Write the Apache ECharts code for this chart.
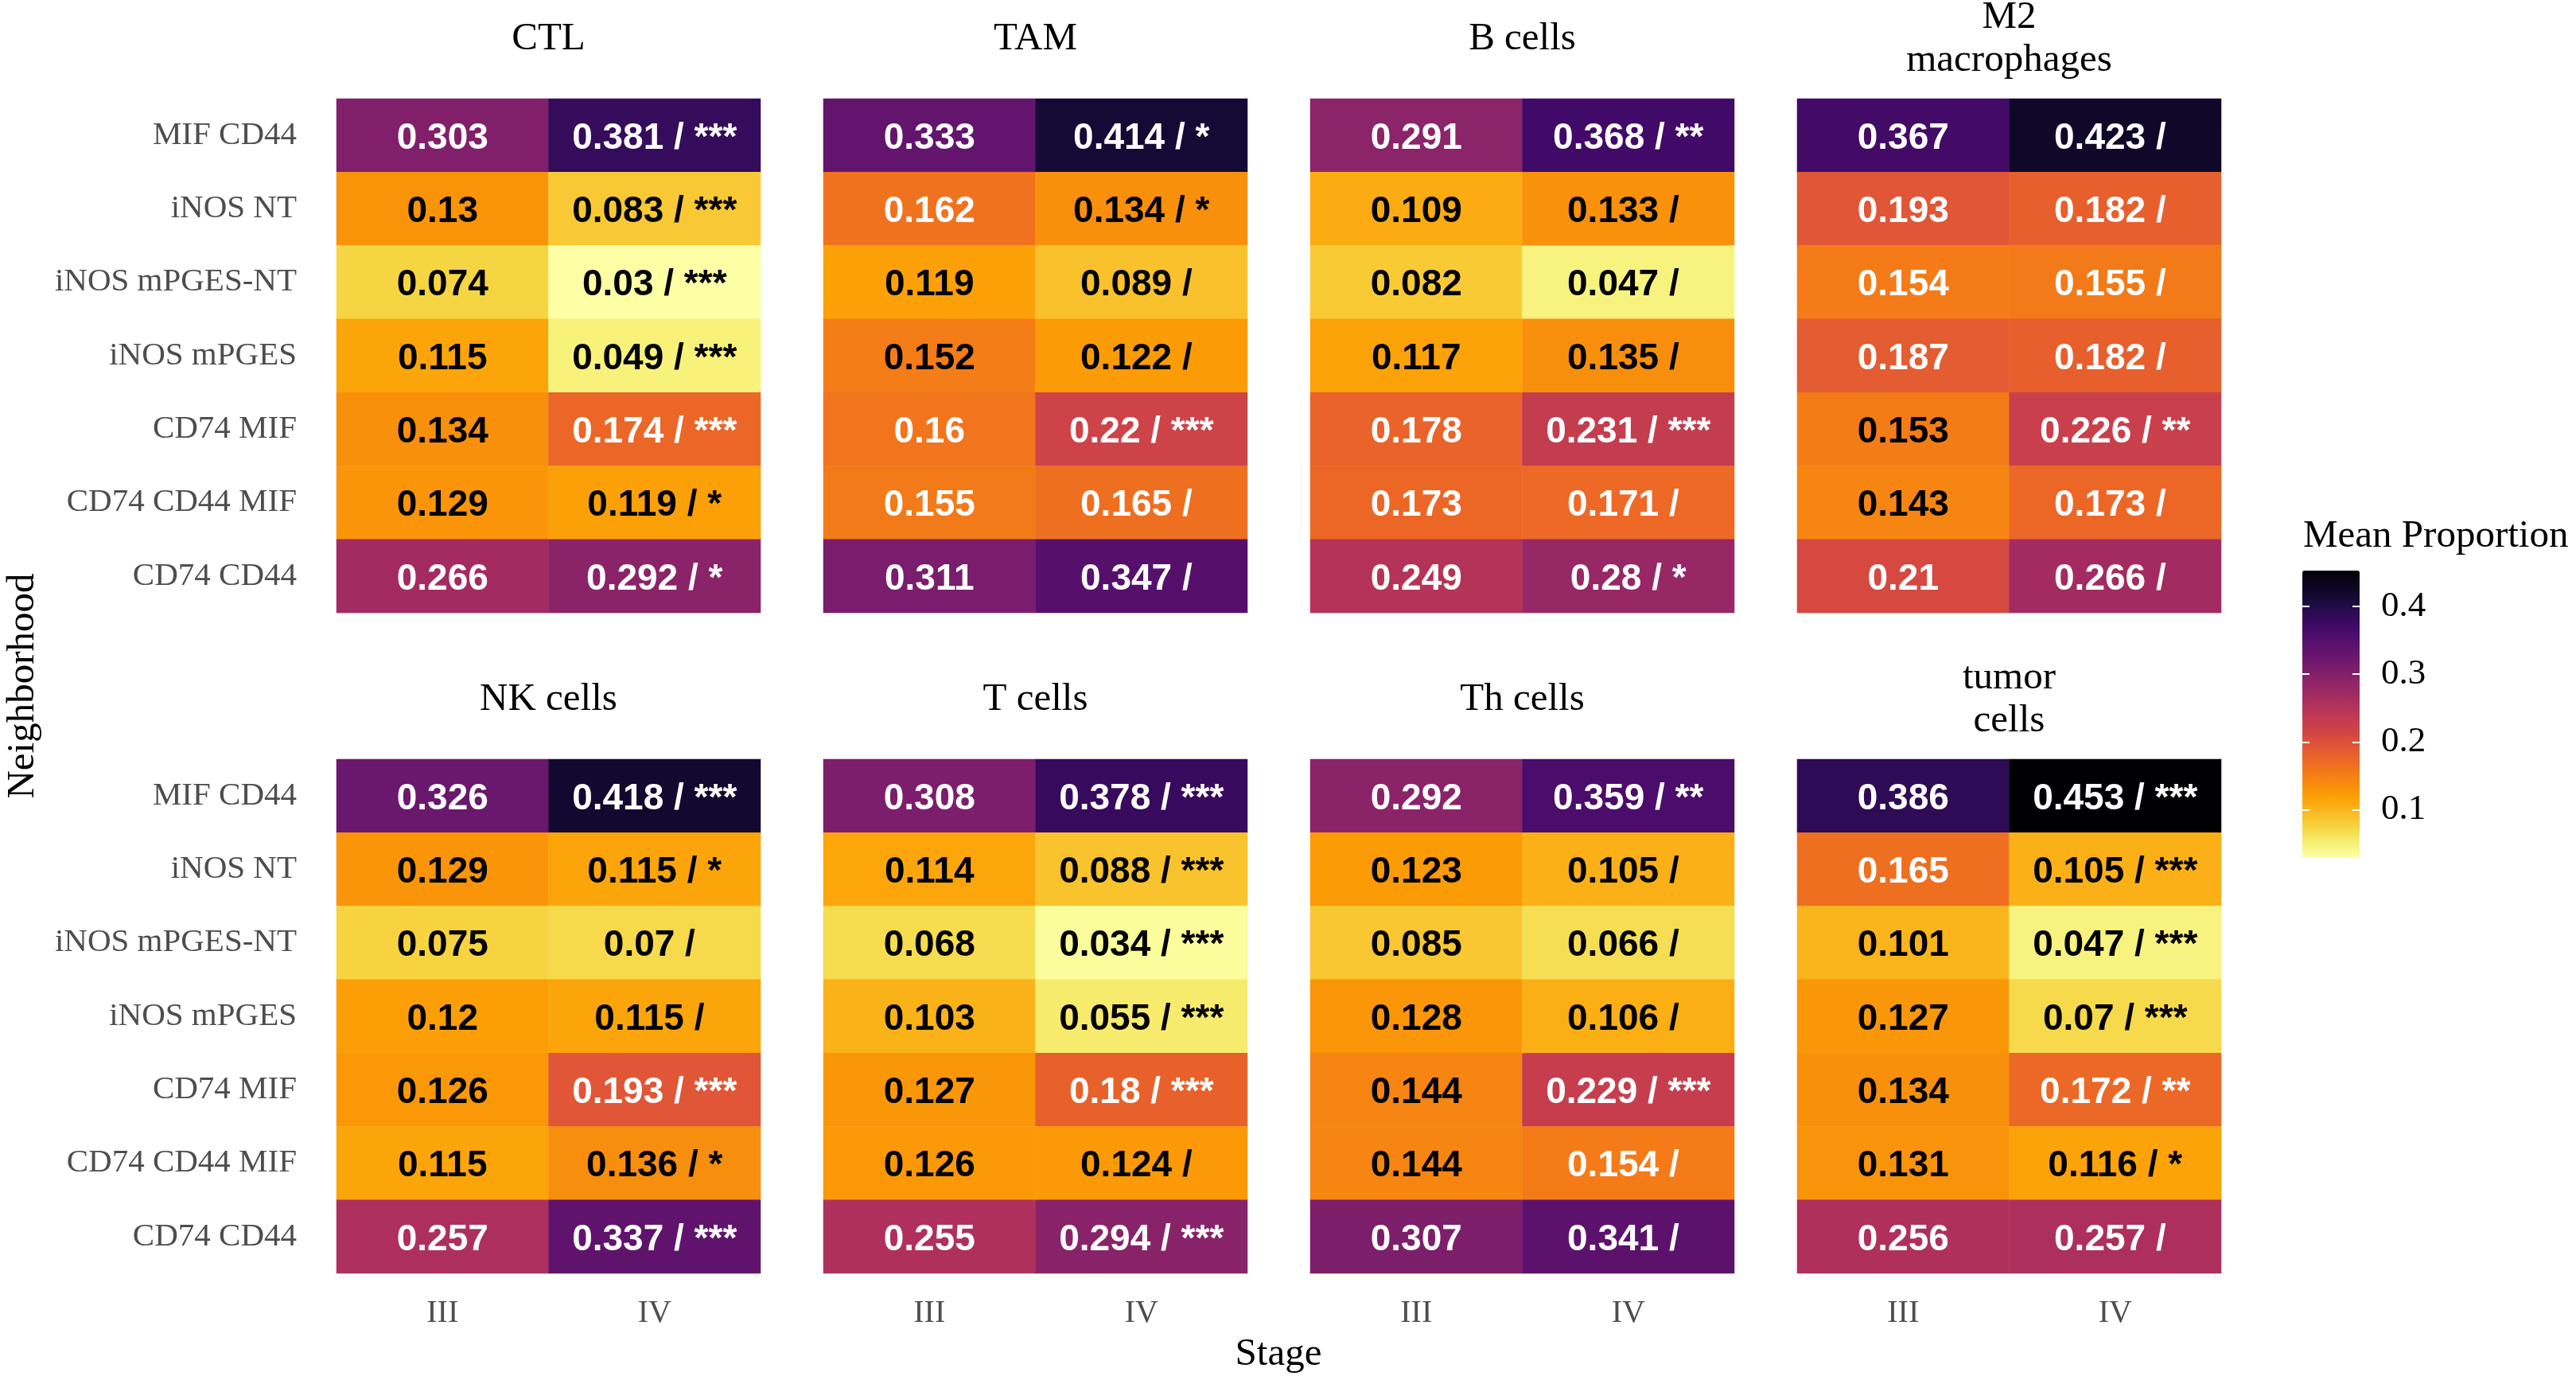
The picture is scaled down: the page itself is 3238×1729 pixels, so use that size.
<!DOCTYPE html>
<html>
<head>
<meta charset="utf-8">
<script src="https://cdn.jsdelivr.net/npm/echarts@6/dist/echarts.min.js"></script>
<style>
html, body { margin: 0; padding: 0; background: #fff; }
#chart { width: 3238px; height: 1729px; }
</style>
</head>
<body>
<div id="chart"></div>
<script>
"use strict";

var stages = ["III", "IV"];
var neighborhoods = ["MIF CD44", "iNOS NT", "iNOS mPGES-NT", "iNOS mPGES", "CD74 MIF", "CD74 CD44 MIF", "CD74 CD44"];
var cellTypes = ["CTL", "TAM", "B cells", "M2\nmacrophages", "NK cells", "T cells", "Th cells", "tumor\ncells"];
var legendTicks = [0.1, 0.2, 0.3, 0.4];

var ctlIII = [0.303, 0.13, 0.074, 0.115, 0.134, 0.129, 0.266];
var ctlIV = [0.381, 0.083, 0.03, 0.049, 0.174, 0.119, 0.292];
var ctlSig = ["***", "***", "***", "***", "***", "*", "*"];
var tamIII = [0.333, 0.162, 0.119, 0.152, 0.16, 0.155, 0.311];
var tamIV = [0.414, 0.134, 0.089, 0.122, 0.22, 0.165, 0.347];
var tamSig = ["*", "*", "", "", "***", "", ""];
var bIII = [0.291, 0.109, 0.082, 0.117, 0.178, 0.173, 0.249];
var bIV = [0.368, 0.133, 0.047, 0.135, 0.231, 0.171, 0.28];
var bSig = ["**", "", "", "", "***", "", "*"];
var m2III = [0.367, 0.193, 0.154, 0.187, 0.153, 0.143, 0.21];
var m2IV = [0.423, 0.182, 0.155, 0.182, 0.226, 0.173, 0.266];
var m2Sig = ["", "", "", "", "**", "", ""];
var nkIII = [0.326, 0.129, 0.075, 0.12, 0.126, 0.115, 0.257];
var nkIV = [0.418, 0.115, 0.07, 0.115, 0.193, 0.136, 0.337];
var nkSig = ["***", "*", "", "", "***", "*", "***"];
var tIII = [0.308, 0.114, 0.068, 0.103, 0.127, 0.126, 0.255];
var tIV = [0.378, 0.088, 0.034, 0.055, 0.18, 0.124, 0.294];
var tSig = ["***", "***", "***", "***", "***", "", "***"];
var thIII = [0.292, 0.123, 0.085, 0.128, 0.144, 0.144, 0.307];
var thIV = [0.359, 0.105, 0.066, 0.106, 0.229, 0.154, 0.341];
var thSig = ["**", "", "", "", "***", "", ""];
var tumorIII = [0.386, 0.165, 0.101, 0.127, 0.134, 0.131, 0.256];
var tumorIV = [0.453, 0.105, 0.047, 0.07, 0.172, 0.116, 0.257];
var tumorSig = ["***", "***", "***", "***", "**", "*", ""];

var panels = [
    [ctlIII, ctlIV, ctlSig], [tamIII, tamIV, tamSig], [bIII, bIV, bSig], [m2III, m2IV, m2Sig],
    [nkIII, nkIV, nkSig], [tIII, tIV, tSig], [thIII, thIV, thSig], [tumorIII, tumorIV, tumorSig]
];

// inferno colour stops (position 0 = dark, 1 = light)
var infernoStops = [
    [0, "#000004"], [0.1, "#160B39"], [0.111, "#1B0C42"], [0.2, "#420A68"], [0.222, "#4B0C6B"],
    [0.3, "#6A176E"], [0.333, "#781C6D"], [0.4, "#932667"], [0.444, "#A52C60"], [0.5, "#BC3754"],
    [0.556, "#CF4446"], [0.6, "#DD513A"], [0.667, "#ED6925"], [0.7, "#F37819"], [0.778, "#FB9A06"],
    [0.8, "#FCA50A"], [0.889, "#F7D03C"], [0.9, "#F6D746"], [0.955, "#F8F27A"], [1, "#FCFFA4"]
];

var serif = "Liberation Serif";
var colLeft = [423, 1035, 1647, 2259];
var rowTop = [124, 954];
var panelW = 533, panelH = 646;

function hexRgb(h) {
    return [parseInt(h.substr(1, 2), 16), parseInt(h.substr(3, 2), 16), parseInt(h.substr(5, 2), 16)];
}

function inferno(t) {
    for (var i = 1; i < infernoStops.length; i++) {
        var a = infernoStops[i - 1], b = infernoStops[i];
        if (t <= b[0]) {
            var f = (t - a[0]) / (b[0] - a[0]);
            var ca = hexRgb(a[1]), cb = hexRgb(b[1]);
            return "rgb(" + ca.map(function (c, j) { return Math.round(c + (cb[j] - c) * f); }).join(",") + ")";
        }
    }
    return infernoStops[infernoStops.length - 1][1];
}

// low value -> light yellow, high value -> black
var ramp = [];
for (var r = 0; r <= 100; r++) ramp.push(inferno(1 - r / 100));

function chart() {
    var grids = [], xAxes = [], yAxes = [], series = [], graphics = [];

    panels.forEach(function (p, k) {
        var col = k % 4, row = Math.floor(k / 4);
        grids.push({ left: colLeft[col], top: rowTop[row], width: panelW, height: panelH });
        xAxes.push({
            gridIndex: k,
            type: "category",
            data: stages,
            axisLine: { show: false },
            axisTick: { show: false },
            splitLine: { show: false },
            axisLabel: { show: row === 1, fontFamily: serif, fontSize: 40, color: "#4d4d4d", margin: 30 }
        });
        yAxes.push({
            gridIndex: k,
            type: "category",
            data: neighborhoods,
            inverse: true,
            axisLine: { show: false },
            axisTick: { show: false },
            splitLine: { show: false },
            axisLabel: {
                show: col === 0, fontFamily: serif, fontSize: 41, color: "#4d4d4d", margin: 50,
                padding: [6, 0, 0, 0]
            }
        });
        var data = [];
        for (var s = 0; s < 2; s++) {
            p[s].forEach(function (v, i) {
                data.push({
                    value: [s, i, v, s === 1 ? p[2][i] : null],
                    label: { color: v > 0.1535 ? "#ffffff" : "#000000" }
                });
            });
        }
        series.push({
            type: "heatmap",
            xAxisIndex: k,
            yAxisIndex: k,
            data: data,
            label: {
                show: true,
                fontFamily: "Liberation Sans",
                fontWeight: "bold",
                fontSize: 46,
                offset: [0, 4],
                formatter: function (d) {
                    var txt = String(d.value[2]);
                    return d.value[0] === 1 ? txt + " / " + d.value[3] : txt;
                }
            },
            emphasis: { disabled: true }
        });
        graphics.push({
            type: "text",
            x: colLeft[col] + panelW / 2,
            y: rowTop[row] - 75,
            style: {
                text: cellTypes[k],
                font: "49px '" + serif + "'",
                fill: "#000",
                align: "center",
                verticalAlign: "middle",
                lineHeight: 54
            }
        });
    });

    // axis that carries the colour bar ticks
    grids.push({ left: 2894, top: 717, width: 72, height: 360 });
    xAxes.push({ gridIndex: 8, type: "value", show: false });
    yAxes.push({
        gridIndex: 8, type: "value", position: "left", min: 0.03, max: 0.453, z: 10,
        axisLine: { show: false },
        splitLine: { show: false },
        axisLabel: { show: false },
        axisTick: { inside: true, length: 9, customValues: legendTicks, lineStyle: { color: "#ffffff", width: 2 } }
    });
    yAxes.push({
        gridIndex: 8, type: "value", position: "right", min: 0.03, max: 0.453, z: 10,
        axisLine: { show: false },
        splitLine: { show: false },
        axisLabel: { fontFamily: serif, fontSize: 45, color: "#000", margin: 27, customValues: legendTicks, padding: [6, 0, 0, 0] },
        axisTick: { inside: true, length: 9, customValues: legendTicks, lineStyle: { color: "#ffffff", width: 2 } }
    });

    graphics.push({
        type: "text", x: 1607, y: 1702,
        style: { text: "Stage", font: "49px '" + serif + "'", fill: "#000", align: "center", verticalAlign: "middle" }
    });
    graphics.push({
        type: "text", x: 29, y: 862, rotation: Math.PI / 2,
        style: { text: "Neighborhood", font: "49px '" + serif + "'", fill: "#000", align: "center", verticalAlign: "middle" }
    });
    graphics.push({
        type: "text", x: 2895, y: 674,
        style: { text: "Mean Proportion", font: "49px '" + serif + "'", fill: "#000", align: "left", verticalAlign: "middle" }
    });

    var e = {
        animation: false,
        backgroundColor: "#ffffff",
        grid: grids,
        xAxis: xAxes,
        yAxis: yAxes,
        visualMap: {
            type: "continuous",
            min: 0.03,
            max: 0.453,
            dimension: 2,
            seriesIndex: [0, 1, 2, 3, 4, 5, 6, 7],
            calculable: false,
            left: 2894,
            top: 717,
            padding: 0,
            itemWidth: 72,
            itemHeight: 360,
            inRange: { color: ramp }
        },
        series: series,
        graphic: graphics
    };
    echarts.init(document.getElementById("chart")).setOption(e);
}

chart();
</script>
</body>
</html>
